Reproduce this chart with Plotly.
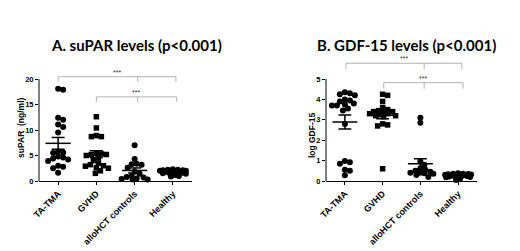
import numpy as np
import plotly.graph_objects as go

categories = ["TA-TMA", "GVHD", "alloHCT controls", "Healthy"]

# Panel A: suPAR (ng/ml)
supar_tatma = [18.1, 17.9, 12.4, 12.0, 11.1, 10.6, 9.5, 5.8, 5.6, 5.5, 4.8, 4.6, 4.4, 4.2, 3.9, 3.0, 2.8, 2.5, 1.6]
supar_gvhd = [12.6, 10.4, 8.9, 8.7, 8.7, 5.4, 5.3, 5.2, 5.2, 5.0, 4.5, 4.0, 3.5, 3.2, 3.0, 2.9, 2.6, 2.5, 2.0, 1.5]
supar_allo = [7.0, 4.3, 3.4, 3.3, 3.2, 2.6, 1.8, 1.4, 1.0, 0.8, 0.7, 0.5, 0.4, 0.3, 0.3]
supar_healthy = [2.3, 2.2, 2.2, 2.1, 2.1, 2.0, 2.0, 1.9, 1.9, 1.8, 1.8, 1.7, 1.7, 1.6, 1.6, 1.5, 1.4, 1.2, 1.0, 0.9]

# Panel B: log GDF-15
gdf_tatma = [4.35, 4.3, 4.25, 4.2, 4.0, 3.95, 3.9, 3.8, 3.75, 3.7, 3.7, 3.55, 3.45, 2.8, 0.98, 0.92, 0.85, 0.55, 0.5, 0.28]
gdf_gvhd = [4.25, 4.2, 3.9, 3.6, 3.5, 3.45, 3.4, 3.4, 3.35, 3.3, 3.3, 3.25, 3.2, 3.2, 3.15, 2.8, 2.75, 2.7, 0.6]
gdf_allo = [3.1, 2.85, 0.95, 0.8, 0.62, 0.55, 0.5, 0.45, 0.4, 0.4, 0.38, 0.35, 0.3, 0.2]
gdf_healthy = [0.38, 0.36, 0.35, 0.34, 0.33, 0.32, 0.31, 0.3, 0.3, 0.29, 0.28, 0.27, 0.26, 0.25, 0.24, 0.22, 0.2, 0.18, 0.12, 0.05]

yticks_a = [0, 5, 10, 15, 20]
yticks_b = [0, 1, 2, 3, 4, 5]
title_a = "A. suPAR levels (p<0.001)"
title_b = "B. GDF-15 levels (p<0.001)"
ylabel_a = "suPAR  (ng/ml)"
ylabel_b = "log GDF-15"
sig_text = "***"

W, H = 520, 251
# pixel geometry of the two panels
A_x0, A_x1 = 39, 192
B_x0, B_x1 = 326, 477
Y0_px = 181
A_range = [0, 21]
B_range = [0, 6.0]
A_ppu = 5.1
B_ppu = 20.4
A_top = Y0_px - A_range[1] * A_ppu
B_top = Y0_px - B_range[1] * B_ppu


def swarm(vals, ppu, cat_px, diam=5.0, step=1.0, max_px=13.0):
    placed = []
    offs = [0.0] * len(vals)
    order = sorted(range(len(vals)), key=lambda i: -vals[i])
    nmax = int(2 * max_px / step) + 1
    for i in order:
        y = vals[i] * ppu
        best, best_d = 0.0, -1.0
        for k in range(nmax):
            cand = ((k + 1) // 2) * step * (1 if k % 2 else -1)
            d = min([((cand - px) ** 2 + (y - py) ** 2) ** 0.5 for px, py in placed] or [99.0])
            if d >= diam:
                best = cand
                break
            if d > best_d + 0.3:
                best, best_d = cand, d
        placed.append((best, y))
        offs[i] = best / cat_px
    return offs


fig = go.Figure()

panels = [
    ("x", "y", [supar_tatma, supar_gvhd, supar_allo, supar_healthy], A_ppu, (A_x1 - A_x0) / 4),
    ("x2", "y2", [gdf_tatma, gdf_gvhd, gdf_allo, gdf_healthy], B_ppu, (B_x1 - B_x0) / 4),
]
symbols = ["circle", "square", "circle", "circle"]

for xa, ya, groups, ppu, cat_px in panels:
    for gi, vals in enumerate(groups):
        offs = swarm(vals, ppu, cat_px)
        xs = [gi + o for o in offs]
        fig.add_trace(go.Scatter(
            x=xs, y=vals, mode="markers", xaxis=xa, yaxis=ya,
            marker=dict(symbol=symbols[gi], size=6 if symbols[gi] == "circle" else 5.5,
                        color="black", line=dict(width=0)),
            showlegend=False, hoverinfo="y", cliponaxis=False))
        arr = np.array(vals)
        m = arr.mean()
        s = arr.std(ddof=1) / np.sqrt(len(arr))
        hw, cw = 0.33, 0.17
        fig.add_trace(go.Scatter(
            x=[gi - hw, gi + hw, None, gi, gi, None, gi - cw, gi + cw, None, gi - cw, gi + cw],
            y=[m, m, None, m - s, m + s, None, m + s, m + s, None, m - s, m - s],
            mode="lines", xaxis=xa, yaxis=ya, line=dict(color="black", width=1.5),
            showlegend=False, hoverinfo="skip"))

# significance brackets: (x start, x mid, x end, y, tick length, text x)
brackets_a = [(0.0, 2.08, 3.08, 20.45, 1.0, 1.53), (1.0, 2.08, 3.1, 16.5, 1.0, 2.04)]
brackets_b = [(0.03, 2.1, 3.1, 5.77, 0.3, 1.56), (1.03, 2.1, 3.13, 4.82, 0.3, 2.08)]
for xa, ya, brs in [("x", "y", brackets_a), ("x2", "y2", brackets_b)]:
    for xs0, xm, xs1, yb, tl, xt in brs:
        fig.add_trace(go.Scatter(
            x=[xs0, xs0, xs1, xs1, None, xm, xm],
            y=[yb - tl, yb, yb, yb - tl, None, yb, yb - tl],
            mode="lines", xaxis=xa, yaxis=ya, line=dict(color="#a0a0a0", width=0.8),
            showlegend=False, hoverinfo="skip"))
        fig.add_annotation(x=xt, y=yb, xref=xa, yref=ya, text=sig_text, showarrow=False,
                           xanchor="center", yanchor="bottom", yshift=-1,
                           font=dict(size=7, color="#333333", family="Liberation Sans"))

tickfont = dict(size=7.5, color="black", family="Liberation Sans", weight="bold")
common_x = dict(range=[-0.5, 3.5], tickvals=[0, 1, 2, 3], ticktext=categories, tickangle=-45,
                showline=True, linecolor="black", linewidth=1, ticks="outside", ticklen=3,
                tickcolor="black", showgrid=False, zeroline=False, automargin=False,
                tickfont=dict(size=9, color="black", family="Liberation Sans", weight="bold"))
common_y = dict(showline=False, ticks="outside", ticklen=3, tickcolor="black",
                showgrid=False, zeroline=False, automargin=False, tickfont=tickfont)

fig.update_layout(
    width=W, height=H, margin=dict(l=0, r=0, t=0, b=0),
    paper_bgcolor="white", plot_bgcolor="white",
    xaxis=dict(domain=[A_x0 / W, A_x1 / W], anchor="y", **common_x),
    yaxis=dict(domain=[(H - Y0_px) / H, (H - A_top) / H], anchor="x", range=A_range,
               tickvals=yticks_a, **common_y),
    xaxis2=dict(domain=[B_x0 / W, B_x1 / W], anchor="y2", **common_x),
    yaxis2=dict(domain=[(H - Y0_px) / H, (H - B_top) / H], anchor="x2", range=B_range,
                tickvals=yticks_b, **common_y),
)

# y axis lines ending at top tick
fig.add_shape(type="line", xref="x domain", yref="y", x0=0, x1=0, y0=0, y1=yticks_a[-1],
              line=dict(color="black", width=1))
fig.add_shape(type="line", xref="x2 domain", yref="y2", x0=0, x1=0, y0=0, y1=yticks_b[-1],
              line=dict(color="black", width=1))

# titles
title_font = dict(size=15, color="black", family="Lato", weight="bold")
fig.add_annotation(x=136 / W, y=(H - 45) / H, xref="paper", yref="paper", text=title_a,
                   showarrow=False, xanchor="center", yanchor="middle", font=title_font)
fig.add_annotation(x=406 / W, y=(H - 45) / H, xref="paper", yref="paper", text=title_b,
                   showarrow=False, xanchor="center", yanchor="middle", font=title_font)

# y axis labels
ylab_font = dict(size=8.5, color="black", family="Liberation Sans", weight="bold")
fig.add_annotation(x=21 / W, y=10.4, xref="paper", yref="y", text=ylabel_a, textangle=-90,
                   showarrow=False, xanchor="center", yanchor="middle", font=ylab_font)
fig.add_annotation(x=312 / W, y=2.25, xref="paper", yref="y2", text=ylabel_b, textangle=-90,
                   showarrow=False, xanchor="center", yanchor="middle", font=ylab_font)

fig.write_html("out.html", config={"displayModeBar": False},
               post_script="document.body.style.margin='0';document.body.style.overflow='hidden';")
